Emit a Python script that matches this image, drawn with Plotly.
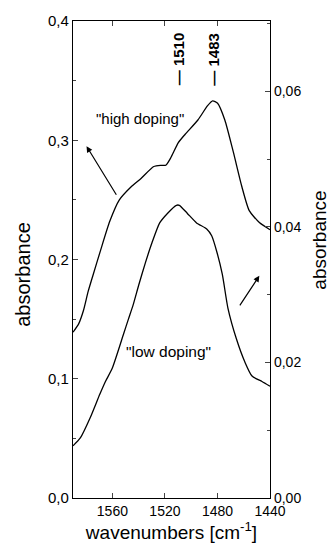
import plotly.graph_objects as go

# wavenumbers (cm^-1) and absorbance values
high_x = [1590, 1585.7, 1582.1, 1578.5, 1575.0, 1569.2, 1562.0, 1554.7, 1545.7, 1538.2,
          1528.5, 1523.3, 1519.4, 1515.7, 1509.8, 1504.6, 1494.9, 1487.5, 1483.7, 1479.9,
          1474.4, 1467.9, 1461.4, 1455.8, 1448.1, 1440]
high_y = [0.139, 0.146, 0.157, 0.173, 0.186, 0.207, 0.232, 0.250, 0.261, 0.268,
          0.278, 0.279, 0.279, 0.285, 0.298, 0.305, 0.317, 0.329, 0.333, 0.331,
          0.317, 0.290, 0.261, 0.241, 0.231, 0.225]

low_x = [1590, 1584.3, 1577.0, 1569.6, 1565.3, 1560.2, 1551.5, 1547.8, 1544.2, 1540.0,
         1534.9, 1529.8, 1524.0, 1518.1, 1511.3, 1509.0, 1502.9, 1495.9, 1488.2, 1484.4,
         1480.3, 1476.3, 1472.0, 1465.6, 1459.2, 1453.7, 1446.1, 1440]
low_y = [0.0077, 0.0089, 0.0118, 0.0153, 0.0172, 0.0191, 0.0242, 0.0264, 0.0285, 0.0314,
         0.0347, 0.0377, 0.0406, 0.0420, 0.0432, 0.0432, 0.0420, 0.0406, 0.0397, 0.0387,
         0.0362, 0.0330, 0.0280, 0.0235, 0.0201, 0.0180, 0.0172, 0.0165]

x_ticks = [1560, 1520, 1480, 1440]
left_ticks = [0.0, 0.1, 0.2, 0.3, 0.4]
right_ticks = [0.00, 0.02, 0.04, 0.06]
peak_labels = [1510, 1483]

FONT = "Liberation Sans, Arial, sans-serif"

fig = go.Figure()
fig.add_trace(go.Scatter(x=high_x, y=high_y, mode="lines", line=dict(color="black", width=1.3,
                         shape="spline", smoothing=0.6), showlegend=False, yaxis="y"))
fig.add_trace(go.Scatter(x=low_x, y=low_y, mode="lines", line=dict(color="black", width=1.3,
                         shape="spline", smoothing=0.6), showlegend=False, yaxis="y2"))

annotations = [
    dict(x=1539.3, y=0.318, xref="x", yref="y", text='"high doping"', showarrow=False,
         font=dict(family=FONT, size=15, color="black")),
    dict(x=1517.0, y=0.0216, xref="x", yref="y2", text='"low doping"', showarrow=False,
         font=dict(family=FONT, size=15.5, color="black")),
    dict(x=1579.7, y=0.295, xref="x", yref="y", ax=1556.3, ay=0.253, axref="x", ayref="y",
         text="", showarrow=True, arrowhead=2, arrowsize=1, arrowwidth=1.2, arrowcolor="black"),
    dict(x=1448.1, y=0.0328, xref="x", yref="y2", ax=1463.7, ay=0.0282, axref="x", ayref="y2",
         text="", showarrow=True, arrowhead=2, arrowsize=1, arrowwidth=1.2, arrowcolor="black"),
    dict(x=-0.254, y=0.47, xref="paper", yref="paper", xanchor="center", yanchor="middle",
         text="absorbance", textangle=-90,
         showarrow=False, font=dict(family=FONT, size=20, color="black")),
    dict(x=1.25, y=0.54, xref="paper", yref="paper", xanchor="center", yanchor="middle",
         text="absorbance", textangle=-90,
         showarrow=False, font=dict(family=FONT, size=19, color="black")),
]
for p in peak_labels:
    annotations.append(dict(x=p, y=0.368, xref="x", yref="y", text="<b>\u2014 %d</b>" % p,
                            textangle=-90, showarrow=False, xanchor="center", yanchor="middle",
                            font=dict(family=FONT, size=15, color="black")))

fig.update_layout(
    width=331, height=551,
    margin=dict(l=73, r=61, t=16, b=53),
    paper_bgcolor="white", plot_bgcolor="white",
    separators=",.",
    font=dict(family=FONT, color="black"),
    xaxis=dict(range=[1590, 1440], tickvals=x_ticks, tickformat="d", ticks="inside",
               ticklen=5, showline=True, linecolor="black", linewidth=1.3, mirror="ticks",
               showgrid=False, zeroline=False, tickfont=dict(size=14),
               title=dict(text="wavenumbers [cm<sup>-1</sup>]", font=dict(size=19), standoff=4)),
    yaxis=dict(range=[0, 0.4], tickvals=left_ticks, tickformat=".1f", ticks="inside",
               ticklen=5, showline=True, linecolor="black", linewidth=1.3,
               showgrid=False, zeroline=False, tickfont=dict(size=15),
               minor=dict(dtick=0.05, ticks="inside", ticklen=3)),
    yaxis2=dict(range=[0, 0.0704], tickvals=right_ticks, tickformat=".2f", ticks="inside",
                ticklen=5, showline=True, linecolor="black", linewidth=1.3, overlaying="y",
                side="right", showgrid=False, zeroline=False, tickfont=dict(size=14),
                minor=dict(dtick=0.01, ticks="inside", ticklen=3)),
    annotations=annotations,
)

fig.write_html("out.html")
